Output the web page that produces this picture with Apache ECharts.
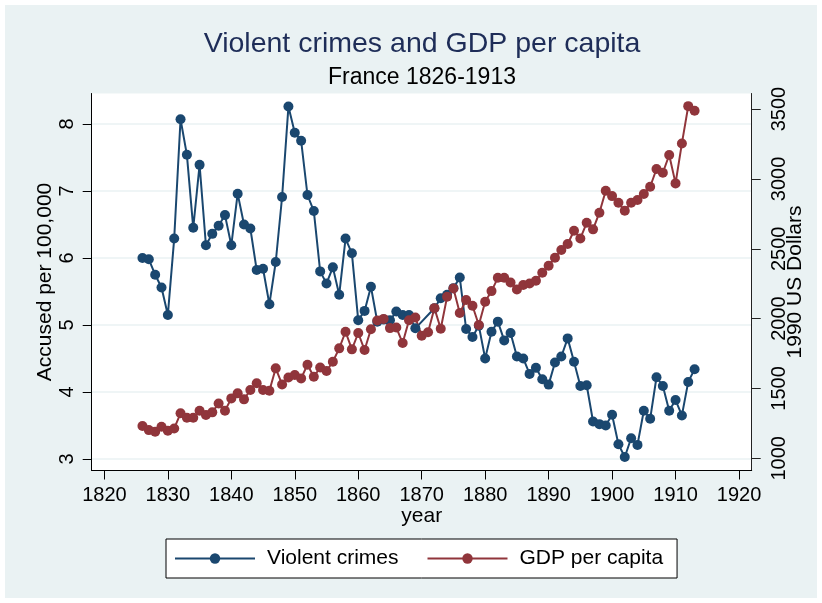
<!DOCTYPE html>
<html>
<head>
<meta charset="utf-8">
<script src="https://cdn.jsdelivr.net/npm/echarts@6/dist/echarts.min.js"></script>
<style>
html,body{margin:0;padding:0;background:#ffffff;}
#chart{width:822px;height:603px;background:#eaf2f3;box-shadow:inset 0 0 0 5px #ffffff;}
</style>
</head>
<body>
<div id="chart"></div>
<script>
var years = [];
for (var y = 1826; y <= 1913; y++) years.push(y);

var violentCrimes = [
  6.00, 5.98, 5.75, 5.56, 5.15, 6.29, 8.07, 7.54, 6.45, 7.39,
  6.19, 6.36, 6.48, 6.64, 6.19, 6.96, 6.50, 6.44, 5.82, 5.84,
  5.31, 5.94, 6.91, 8.26, 7.87, 7.75, 6.94, 6.70, 5.80, 5.62,
  5.86, 5.45, 6.29, 6.07, 5.07, 5.21, 5.57, 5.05, 5.08, 5.07,
  5.20, 5.15, 5.15, 4.95, null, null, 5.25, 5.40, 5.45, 5.55,
  5.71, 4.94, 4.82, 4.99, 4.50, 4.90, 5.05, 4.77, 4.88, 4.53,
  4.50, 4.27, 4.36, 4.19, 4.11, 4.44, 4.53, 4.80, 4.45, 4.09,
  4.10, 3.56, 3.52, 3.50, 3.66, 3.22, 3.03, 3.31, 3.21, 3.72,
  3.60, 4.22, 4.09, 3.72, 3.88, 3.65, 4.15, 4.34
];

var gdpPerCapita = [
  1231, 1202, 1190, 1226, 1197, 1214, 1322, 1290, 1290, 1340,
  1310, 1329, 1393, 1340, 1429, 1465, 1422, 1489, 1537, 1489,
  1484, 1644, 1529, 1579, 1596, 1572, 1670, 1584, 1650, 1625,
  1691, 1787, 1906, 1780, 1897, 1775, 1924, 1986, 1998, 1932,
  1936, 1825, 1988, 2008, 1878, 1902, 2075, 1927, 2156, 2216,
  2040, 2133, 2092, 1954, 2121, 2197, 2292, 2292, 2259, 2209,
  2240, 2252, 2271, 2328, 2378, 2436, 2491, 2534, 2629, 2574,
  2686, 2639, 2758, 2915, 2877, 2829, 2772, 2829, 2849, 2892,
  2944, 3071, 3044, 3171, 2968, 3254, 3521, 3488
];

var xTicks = [1820, 1830, 1840, 1850, 1860, 1870, 1880, 1890, 1900, 1910, 1920];
var leftTicks = [3, 4, 5, 6, 7, 8];
var rightTicks = [1000, 1500, 2000, 2500, 3000, 3500];

var FONT = '"Liberation Sans", Arial, Helvetica, sans-serif';
var NAVY = '#1a476f';
var MAROON = '#90353b';

var plain = function (v) { return String(v); };

var crimePairs = years.map(function (yr, i) { return [yr, violentCrimes[i]]; });
var gdpPairs = years.map(function (yr, i) { return [yr, gdpPerCapita[i]]; });

var chart = echarts.init(document.getElementById('chart'), null, {renderer: 'canvas'});

var option = {
  animation: false,
  backgroundColor: 'transparent',
  textStyle: {fontFamily: FONT},
  title: [
    {text: 'Violent crimes and GDP per capita', left: 422, top: 30, textAlign: 'center', padding: 0,
     textStyle: {fontSize: 28.5, fontWeight: 'normal', color: '#1e2d58', fontFamily: FONT}},
    {text: 'France 1826-1913', left: 422, top: 66, textAlign: 'center', padding: 0,
     textStyle: {fontSize: 23, fontWeight: 'normal', color: '#000000', fontFamily: FONT}}
  ],
  grid: {left: 91.7, right: 70.3, top: 93.5, bottom: 132.5, show: true,
         backgroundColor: '#ffffff', borderWidth: 0, containLabel: false, outerBoundsMode: 'none'},
  legend: {
    left: 166, top: 539,
    padding: [9, 14, 9, 8],
    itemWidth: 80, itemHeight: 13, itemGap: 28,
    backgroundColor: '#ffffff', borderColor: '#000000', borderWidth: 1,
    textStyle: {fontSize: 21, color: '#000000', fontFamily: FONT, padding: [0, 0, 0, 7]},
    data: ['Violent crimes', 'GDP per capita']
  },
  xAxis: {
    type: 'value', min: 1818, max: 1922,
    name: 'year', nameLocation: 'middle', nameGap: 35, nameMoveOverlap: false,
    nameTextStyle: {fontSize: 21, color: '#000000', fontFamily: FONT},
    axisLine: {show: true, lineStyle: {color: '#000000', width: 1}},
    axisTick: {show: true, length: 9, customValues: xTicks, lineStyle: {color: '#000000'}},
    axisLabel: {customValues: xTicks, formatter: plain, margin: 15, fontSize: 20, color: '#000000', fontFamily: FONT},
    splitLine: {show: false}
  },
  yAxis: [
    {
      type: 'value', position: 'left', min: 2.828, max: 8.455,
      name: 'Accused per 100,000', nameLocation: 'middle', nameGap: 36, nameRotate: 90, nameMoveOverlap: false,
      nameTextStyle: {fontSize: 21, color: '#000000', fontFamily: FONT},
      axisLine: {show: true, lineStyle: {color: '#000000', width: 1}},
      axisTick: {show: true, length: 9, customValues: leftTicks, lineStyle: {color: '#000000'}},
      axisLabel: {customValues: leftTicks, formatter: plain, rotate: 90, margin: 14, fontSize: 20, color: '#000000', fontFamily: FONT},
      splitLine: {show: true, lineStyle: {color: '#eaf2f3', width: 1.6}}
    },
    {
      type: 'value', position: 'right', min: 912.8, max: 3611.4,
      name: '1990 US Dollars', nameLocation: 'middle', nameGap: 33, nameRotate: 90, nameMoveOverlap: false,
      nameTextStyle: {fontSize: 21, color: '#000000', fontFamily: FONT},
      axisLine: {show: true, lineStyle: {color: '#222222', width: 1}},
      axisTick: {show: true, length: 9, customValues: rightTicks, lineStyle: {color: '#222222'}},
      axisLabel: {customValues: rightTicks, formatter: plain, rotate: 90, margin: 18, fontSize: 20, color: '#000000', fontFamily: FONT},
      splitLine: {show: false}
    }
  ],
  series: [
    {
      name: 'Violent crimes', type: 'line', xAxisIndex: 0, yAxisIndex: 0,
      data: crimePairs, connectNulls: true,
      symbol: 'circle', symbolSize: 10, showSymbol: true,
      itemStyle: {color: NAVY}, lineStyle: {color: NAVY, width: 2}
    },
    {
      name: 'GDP per capita', type: 'line', xAxisIndex: 0, yAxisIndex: 1,
      data: gdpPairs, connectNulls: true,
      symbol: 'circle', symbolSize: 10, showSymbol: true,
      itemStyle: {color: MAROON}, lineStyle: {color: MAROON, width: 2}
    }
  ]
};

chart.setOption(option);
</script>
</body>
</html>
